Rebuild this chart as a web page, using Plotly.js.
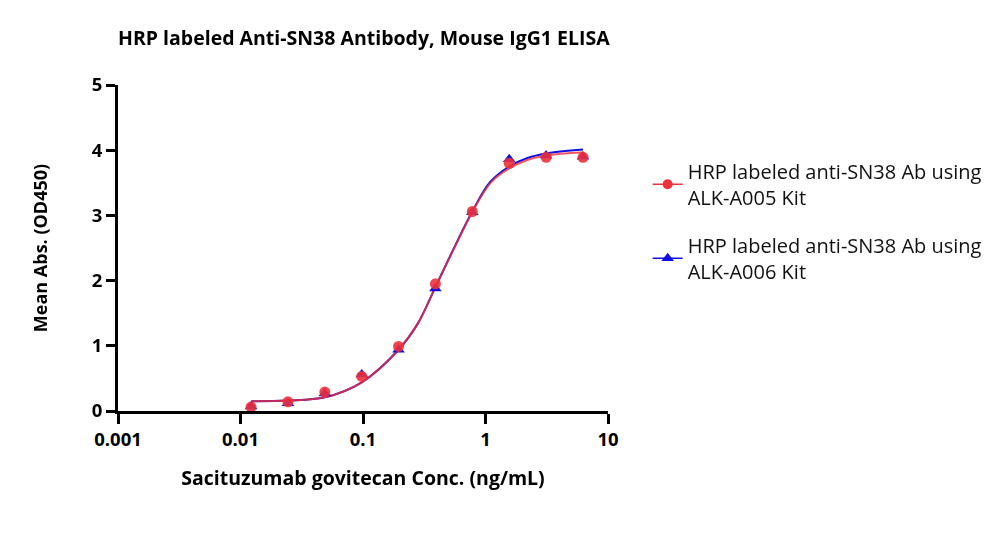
<!DOCTYPE html>
<html>
<head>
<meta charset="utf-8">
<script src="https://cdn.plot.ly/plotly-3.0.1.min.js"></script>
<style>html,body{margin:0;padding:0;background:#fff;}#chart{width:1000px;height:545px;}</style>
</head>
<body>
<div id="chart"></div>
<script>
// Concentrations (ng/mL), 2-fold serial dilution
const conc = [0.0122, 0.0244, 0.0488, 0.0977, 0.195, 0.39, 0.78, 1.5625, 3.125, 6.25];
// Mean OD450 values
const odA005 = [0.06, 0.14, 0.29, 0.53, 0.99, 1.95, 3.06, 3.80, 3.89, 3.89];
const odA006 = [0.07, 0.12, 0.27, 0.56, 0.94, 1.88, 3.05, 3.86, 3.92, 3.90];
// Fitted curves
const fitX = [0.0122, 0.0244, 0.0488, 0.0977, 0.195, 0.28, 0.39, 0.55, 0.78, 1.1, 1.5625, 2.2, 3.125, 6.25];
const fitA005 = [0.15, 0.16, 0.21, 0.44, 0.94, 1.34, 1.90, 2.48, 3.05, 3.50, 3.72, 3.85, 3.92, 3.97];
const fitA006 = [0.15, 0.16, 0.21, 0.44, 0.94, 1.34, 1.90, 2.49, 3.06, 3.52, 3.75, 3.88, 3.95, 4.01];
const xTickVals = [0.001, 0.01, 0.1, 1, 10];
const xTickText = ['0.001', '0.01', '0.1', '1', '10'];
const nameA005 = 'HRP labeled anti-SN38 Ab using<br>ALK-A005 Kit';
const nameA006 = 'HRP labeled anti-SN38 Ab using<br>ALK-A006 Kit';

const RED = '#f0303a';
const BLUE = '#1010e0';
const FONT = '"Open Sans", Lato, sans-serif';

const traces = [
  {x: fitX, y: fitA006, mode: 'lines', line: {color: BLUE, width: 2, shape: 'spline'}, showlegend: false, hoverinfo: 'skip'},
  {x: fitX, y: fitA005, mode: 'lines', line: {color: RED, width: 2, shape: 'spline'}, opacity: 0.8, showlegend: false, hoverinfo: 'skip'},
  {x: conc, y: odA006, mode: 'markers', marker: {symbol: 'triangle-up', size: 11, color: BLUE}, showlegend: false},
  {x: conc, y: odA005, mode: 'markers', marker: {symbol: 'circle', size: 11, color: RED}, opacity: 0.9, showlegend: false},
  {x: [null], y: [null], name: nameA005, legendgroup: 'a', mode: 'lines+markers', line: {color: RED, width: 1.5}, marker: {symbol: 'circle', size: 10, color: RED}},
  {x: [null], y: [null], name: nameA006, legendgroup: 'b', mode: 'lines+markers', line: {color: BLUE, width: 1.5}, marker: {symbol: 'triangle-up', size: 11, color: BLUE}}
];

const layout = {
  width: 1000, height: 545,
  margin: {l: 118, r: 392, t: 85, b: 134},
  paper_bgcolor: '#fff', plot_bgcolor: '#fff',
  font: {family: FONT, color: '#000'},
  title: {text: '<b>HRP labeled Anti-SN38 Antibody, Mouse IgG1 ELISA</b>', font: {size: 19.5, color: '#000', family: FONT}, x: 0, xanchor: 'left', xref: 'paper', y: 0.93, yanchor: 'middle'},
  xaxis: {
    type: 'log', range: [-3, 1], tickvals: xTickVals, ticktext: xTickText,
    showline: true, linecolor: '#000', linewidth: 3, ticks: 'outside', ticklen: 10, tickwidth: 3, tickcolor: '#000',
    showgrid: false, zeroline: false, tickfont: {size: 18.5, color: '#000', weight: 'bold', family: FONT},
    title: {text: '<b>Sacituzumab govitecan Conc. (ng/mL)</b>', font: {size: 19.5, color: '#000', family: FONT}, standoff: 22}
  },
  yaxis: {
    range: [0, 5], dtick: 1, tick0: 0,
    showline: true, linecolor: '#000', linewidth: 3, ticks: 'outside', ticklen: 9, tickwidth: 3, tickcolor: '#000',
    showgrid: false, zeroline: false, tickfont: {size: 18.5, color: '#000', weight: 'bold', family: FONT},
    title: {text: '<b>Mean Abs. (OD450)</b>', font: {size: 18, color: '#000', family: FONT}, standoff: 40}
  },
  legend: {x: 1.081, xanchor: 'left', y: 0.795, yanchor: 'top', font: {size: 20, color: '#111', family: FONT}, traceorder: 'grouped', tracegroupgap: 19, bgcolor: 'rgba(0,0,0,0)'},
  showlegend: true
};

Plotly.newPlot('chart', traces, layout, {displayModeBar: false, staticPlot: true});
</script>
</body>
</html>
